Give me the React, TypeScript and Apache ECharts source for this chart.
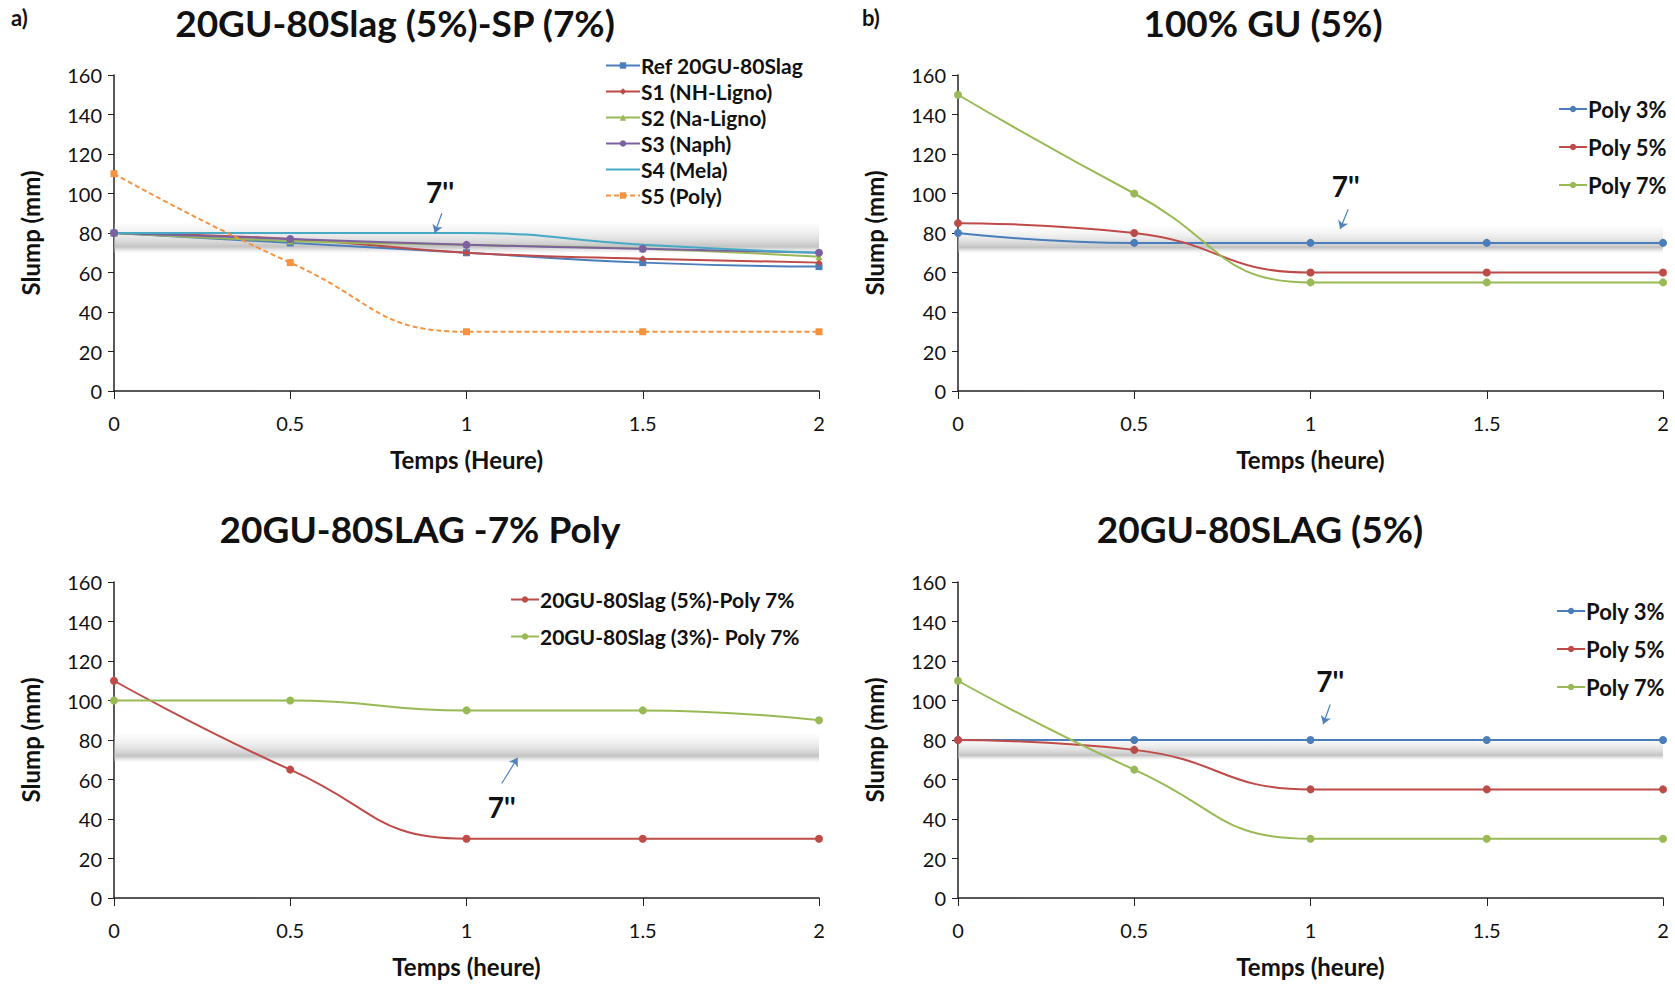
import React, { useEffect, useRef } from "react";
import * as echarts from "echarts";

const X = [0, 0.5, 1, 1.5, 2];

// Panel a
const refSlag = [80, 75, 70, 65, 63];
const s1NHLigno = [80, 77, 70, 67, 65];
const s2NaLigno = [80, 76, 74, 72, 68];
const s3Naph = [80, 77, 74, 72, 70];
const s4Mela = [80, 80, 80, 74, 70];
const s5Poly = [110, 65, 30, 30, 30];

// Panel b (100% GU 5%)
const bPoly3 = [80, 75, 75, 75, 75];
const bPoly5 = [85, 80, 60, 60, 60];
const bPoly7 = [150, 100, 55, 55, 55];

// Panel c (20GU-80SLAG -7% Poly)
const cSlag5 = [110, 65, 30, 30, 30];
const cSlag3 = [100, 100, 95, 95, 90];

// Panel d (20GU-80SLAG 5%)
const dPoly3 = [80, 80, 80, 80, 80];
const dPoly5 = [80, 75, 55, 55, 55];
const dPoly7 = [110, 65, 30, 30, 30];

const titles = ["20GU-80Slag (5%)-SP (7%)", "100% GU (5%)", "20GU-80SLAG -7% Poly", "20GU-80SLAG (5%)"];
const xNames = ["Temps (Heure)", "Temps (heure)", "Temps (heure)", "Temps (heure)"];

// band + annotation positions (data coords)
const bandRanges = [
  [70, 85],
  [70, 83],
  [69, 83],
  [70, 81],
];
const arrows = [
  { text: [0.925, 101], from: [0.93, 90], to: [0.91, 80] },
  { text: [1.1, 104], from: [1.107, 92], to: [1.084, 82] },
  { text: [1.1, 46], from: [1.1, 58], to: [1.145, 71] },
  { text: [1.056, 110], from: [1.056, 98], to: [1.036, 88] },
];

const C = {
  blue: "#4A7EBB",
  red: "#BE4B48",
  green: "#98B954",
  purple: "#7D60A0",
  cyan: "#46AAC5",
  orange: "#F69240",
};

const FONT = "Lato, 'Open Sans', sans-serif";

const pairs = (ys: number[]) => X.map((x, i) => [x, ys[i]]);

export default function App() {
  const ref = useRef<HTMLDivElement>(null);
  useEffect(() => {
    const chart = echarts.init(ref.current!, undefined, { renderer: "svg" });
    const grids = [
      { left: 114, top: 75, width: 705, height: 316 },
      { left: 958, top: 75, width: 705, height: 316 },
      { left: 114, top: 582, width: 705, height: 316 },
      { left: 958, top: 582, width: 705, height: 316 },
    ];
    const xAxis = grids.map((_, i) => ({
      type: "value",
      gridIndex: i,
      min: 0,
      max: 2,
      interval: 0.5,
      name: xNames[i],
      nameLocation: "middle",
      nameGap: 56,
      nameTextStyle: { fontFamily: FONT, fontSize: 24, fontWeight: "bold", color: "#111" },
      axisLine: { lineStyle: { color: "#222", width: 1.5 } },
      axisTick: { show: true, length: 8, lineStyle: { color: "#222" } },
      axisLabel: { fontFamily: FONT, fontSize: 20, color: "#111", margin: 22 },
      splitLine: { show: false },
    }));
    const yAxis = grids.map((_, i) => ({
      type: "value",
      gridIndex: i,
      min: 0,
      max: 160,
      interval: 20,
      name: "Slump (mm)",
      nameLocation: "middle",
      nameGap: 72,
      nameTextStyle: { fontFamily: FONT, fontSize: 24, fontWeight: "bold", color: "#111" },
      axisLine: { show: true, lineStyle: { color: "#222", width: 1.5 } },
      axisTick: { show: true, length: 6, lineStyle: { color: "#222" } },
      axisLabel: { fontFamily: FONT, fontSize: 20, color: "#111", margin: 12 },
      splitLine: { show: false },
    }));

    const band = (i: number) => ({
      silent: true,
      label: { show: false },
      itemStyle: {
        color: new echarts.graphic.LinearGradient(0, 0, 0, 1, [
          { offset: 0, color: "rgba(230,230,230,0.1)" },
          { offset: 0.5, color: "rgba(205,205,205,0.55)" },
          { offset: 0.8, color: "rgba(180,180,180,0.8)" },
          { offset: 1, color: "rgba(225,225,225,0.2)" },
        ]),
      },
      data: [[{ xAxis: 0, yAxis: bandRanges[i][0] }, { xAxis: 2, yAxis: bandRanges[i][1] }]],
    });
    const arrowLine = (i: number) => ({
      silent: true,
      symbol: ["none", "arrow"],
      symbolSize: 8,
      label: { show: false },
      lineStyle: { color: "#4F81BD", width: 1.2, type: "solid" },
      data: [[{ coord: arrows[i].from }, { coord: arrows[i].to }]],
    });
    const txt = (i: number) => ({
      silent: true,
      symbol: "circle",
      symbolSize: 1,
      itemStyle: { color: "rgba(0,0,0,0)" },
      label: {
        show: true,
        position: "inside",
        formatter: "7''",
        fontFamily: FONT,
        fontSize: 28,
        fontWeight: "bold",
        color: "#111",
      },
      data: [{ coord: arrows[i].text }],
    });

    const mk = (
      name: string,
      ys: number[],
      color: string,
      g: number,
      symbol: string,
      size: number,
      extra: any = {}
    ) => ({
      type: "line",
      name,
      xAxisIndex: g,
      yAxisIndex: g,
      data: pairs(ys),
      smooth: 0.5,
      symbol,
      symbolSize: size,
      lineStyle: { color, width: 2, ...(extra.lineStyle || {}) },
      itemStyle: { color },
      ...(extra.rest || {}),
    });

    const series: any[] = [
      {
        ...mk("Ref 20GU-80Slag", refSlag, C.blue, 0, "rect", 7),
        markArea: band(0),
        markLine: arrowLine(0),
        markPoint: txt(0),
      },
      mk("S1 (NH-Ligno)", s1NHLigno, C.red, 0, "diamond", 7),
      mk("S2 (Na-Ligno)", s2NaLigno, C.green, 0, "triangle", 7),
      mk("S3 (Naph)", s3Naph, C.purple, 0, "circle", 8),
      mk("S4 (Mela)", s4Mela, C.cyan, 0, "none", 0, { rest: { showSymbol: false } }),
      mk("S5 (Poly)", s5Poly, C.orange, 0, "rect", 7, { lineStyle: { type: [5, 3] } }),

      {
        ...mk("Poly 3%", bPoly3, C.blue, 1, "circle", 8),
        markArea: band(1),
        markLine: arrowLine(1),
        markPoint: txt(1),
      },
      mk("Poly 5%", bPoly5, C.red, 1, "circle", 8),
      mk("Poly 7%", bPoly7, C.green, 1, "circle", 8),

      {
        ...mk("20GU-80Slag (5%)-Poly 7%", cSlag5, C.red, 2, "circle", 8),
        markArea: band(2),
        markLine: arrowLine(2),
        markPoint: txt(2),
      },
      mk("20GU-80Slag (3%)- Poly 7%", cSlag3, C.green, 2, "circle", 8),

      {
        ...mk("Poly 3%", dPoly3, C.blue, 3, "circle", 8),
        markArea: band(3),
        markLine: arrowLine(3),
        markPoint: txt(3),
      },
      mk("Poly 5%", dPoly5, C.red, 3, "circle", 8),
      mk("Poly 7%", dPoly7, C.green, 3, "circle", 8),
    ];

    const legendBase = (fs: number, w: number) => ({
      orient: "vertical",
      selectedMode: false,
      itemWidth: w,
      itemHeight: 8,
      padding: 0,
      textStyle: { fontFamily: FONT, fontSize: fs, fontWeight: "bold", color: "#111", padding: [0, 0, 0, -4] },
    });

    const option: any = {
      animation: false,
      backgroundColor: "#fff",
      title: [
        { text: titles[0], left: 395, top: 4, textAlign: "center", padding: 0 },
        { text: titles[1], left: 1263, top: 4, textAlign: "center", padding: 0 },
        { text: titles[2], left: 420, top: 510, textAlign: "center", padding: 0 },
        { text: titles[3], left: 1260, top: 510, textAlign: "center", padding: 0 },
        { text: "a)", left: 11, top: 6, padding: 0 },
        { text: "b)", left: 862, top: 6, padding: 0 },
      ].map((t, i) => ({
        ...t,
        textStyle: {
          fontFamily: FONT,
          fontWeight: "bold",
          fontSize: i < 4 ? 37 : 22,
          color: "#111",
        },
      })),
      grid: grids,
      xAxis,
      yAxis,
      legend: [
        {
          ...legendBase(21, 34),
          left: 605,
          top: 55,
          itemGap: 5,
          data: [
            "Ref 20GU-80Slag",
            "S1 (NH-Ligno)",
            "S2 (Na-Ligno)",
            "S3 (Naph)",
            { name: "S4 (Mela)", itemStyle: { color: "rgba(0,0,0,0)", borderWidth: 0 } },
            "S5 (Poly)",
          ],
        },
        {
          ...legendBase(22, 28),
          right: 8,
          top: 98,
          itemGap: 16,
          data: ["Poly 3%", "Poly 5%", "Poly 7%"],
        },
        {
          ...legendBase(21, 28),
          left: 510,
          top: 589,
          itemGap: 16,
          data: ["20GU-80Slag (5%)-Poly 7%", "20GU-80Slag (3%)- Poly 7%"],
        },
        {
          ...legendBase(22, 28),
          right: 10,
          top: 600,
          itemGap: 16,
          data: ["Poly 3%", "Poly 5%", "Poly 7%"],
        },
      ],
      series,
    };
    chart.setOption(option);
    return () => chart.dispose();
  }, []);
  return (
    <div
      ref={ref}
      style={{ position: "fixed", left: 0, top: 0, width: 1675, height: 985, background: "#fff" }}
    />
  );
}
